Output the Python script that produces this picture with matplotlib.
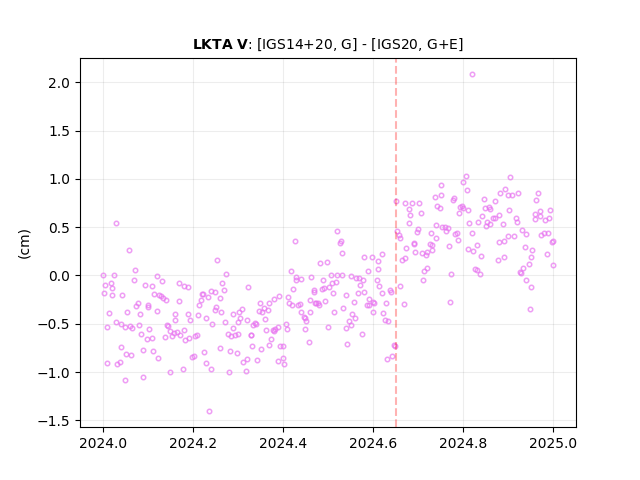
import numpy as np
import matplotlib
matplotlib.use('Agg')
import matplotlib.pyplot as plt

# fraction of the year after 2024.0
year_frac = [
    .000, .024, .120, .273, .067, .131, .004, .016, .020, .093, .107, .167, .178, .189, .264,
    .002, .018, .042, .113, .124, .129, .133, .140, .169, .218, .222, .233, .240, .247, .260,
    .269, .216, .076, .073, .100, .098, .213, .251, .249, .013, .053, .082, .118, .158, .187,
    .211, .262, .287, .302, .029, .040, .049, .060, .064, .078, .007, .142, .144, .160, .193,
    .229, .242, .271, .300, .289, .304, .102, .149, .180, .084, .156, .164, .153, .171, .136,
    .096, .109, .182, .191, .204, .207, .276, .284, .293, .300, .038, .087, .111, .051, .062,
    .122, .196, .202, .224, .258, .282, .296, .009, .031, .036, .227, .238, .176, .147, .280,
    .047, .089, .027, .056, .071, .253, .2356,
    .520, .425, .525, .527, .529, .578, .596, .618, .609, .611, .482, .496, .416, .587, .505,
    .518, .531, .427, .429, .440, .462, .487, .549, .562, .567, .576, .607, .516, .507, .571,
    .613, .502, .491, .485, .322, .422, .469, .467, .509, .538, .565, .580, .620, .636, .638,
    .411, .391, .378, .589, .458, .493, .556, .600, .602, .627, .413, .347, .367, .420, .433,
    .436, .471, .476, .473, .480, .585, .591, .309, .356, .345, .353, .365, .438, .460, .513,
    .533, .598, .622, .553, .358, .320, .445, .449, .451, .560, .625, .633, .545, .551, .405,
    .333, .336, .340, .498, .540, .389, .409, .362, .376, .380, .382, .447, .574, .327, .329,
    .373, .331, .351, .369, .393, .398, .456, .542, .645, .647, .642, .631, .400, .402, .387,
    .342, .318, .311, .316,
    .805, .904, .798, .749, .893, .882, .807, .751, .900, .907, .922, .965, .736, .778, .776,
    .962, .845, .869, .671, .685, .702, .649, .742, .747, .796, .793, .800, .809, .847, .856,
    .858, .902, .678, .705, .682, .789, .958, .969, .971, .993, .842, .880, .865, .871, .916,
    .960, .982, .991, .813, .833, .853, .918, .887, .680, .738, .860, .851, .753, .758, .765,
    .762, .700, .696, .653, .656, .727, .785, .782, .818, .929, .938, .973, .980, .987, .660,
    .740, .787, .898, .913, .889, .878, 1.000, .996, .689, .691, .725, .731, .767, .831, .936,
    .673, .811, .822, .729, .720, .693, .707, .716, .953, .985, .840, .891, .949, .876, .669,
    .664, .945, .998, .933, .718, .713, .825, .829, .836, .773, .925, .927, .711, .940, .951,
    .658, .667, .771, .947, .820,
]

diff_cm = [
    .00, .01, -.01, .02, -.05, -.06, -.10, -.08, -.13, -.10, -.11, -.08, -.11, -.12, -.08,
    -.18, -.20, -.20, -.19, -.20, -.21, -.23, -.25, -.26, -.19, -.19, -.22, -.16, -.17, -.23,
    -.15, -.25, -.28, -.32, -.31, -.33, -.31, -.33, -.36, -.39, -.38, -.40, -.37, -.40, -.40,
    -.41, -.38, -.40, -.38, -.48, -.50, -.53, -.52, -.54, -.51, -.53, -.51, -.52, -.46, -.46,
    -.44, -.50, -.48, -.48, -.54, -.44, -.55, -.57, -.56, -.61, -.60, -.59, -.63, -.62, -.64,
    -.66, -.65, -.67, -.65, -.63, -.62, -.61, -.63, -.62, -.61, -.74, -.77, -.78, -.81, -.82,
    -.85, -.84, -.83, -.79, -.75, -.78, -.80, -.91, -.92, -.90, -.91, -.97, -.97, -1.00, -1.00,
    -1.08, -1.05, .54, .26, .06, .16, -1.40,
    .46, .36, .34, .36, .23, .19, .19, .22, .15, .07, .13, .14, .05, .05, .01,
    .01, .01, -.02, -.05, -.04, -.02, -.05, -.01, -.03, -.03, -.05, -.05, -.07, -.08, -.10,
    -.11, -.12, -.13, -.14, -.12, -.14, -.15, -.17, -.18, -.20, -.18, -.17, -.18, -.15, -.17,
    -.22, -.21, -.24, -.24, -.25, -.26, -.27, -.27, -.29, -.29, -.28, -.29, -.29, -.31, -.31,
    -.30, -.29, -.28, -.29, -.31, -.31, -.31, -.35, -.34, -.37, -.38, -.36, -.38, -.38, -.38,
    -.34, -.38, -.39, -.40, -.45, -.46, -.43, -.44, -.47, -.44, -.46, -.47, -.47, -.51, -.50,
    -.51, -.49, -.50, -.53, -.54, -.53, -.55, -.56, -.56, -.57, -.55, -.55, -.61, -.62, -.62,
    -.66, -.73, -.76, -.72, -.73, -.73, -.69, -.71, -.72, -.73, -.83, -.87, -.85, -.92, -.89,
    -.88, -.87, -.90, -.99,
    1.03, 1.02, .97, .94, .90, .86, .89, .83, .83, .83, .85, .85, .81, .80, .78,
    .78, .79, .77, .75, .75, .75, .77, .72, .70, .72, .71, .70, .68, .70, .71,
    .69, .68, .69, .65, .63, .65, .64, .67, .62, .68, .62, .63, .60, .60, .60,
    .59, .58, .60, .54, .55, .55, .55, .53, .54, .52, .53, .51, .50, .50, .49,
    .46, .48, .45, .46, .42, .44, .44, .43, .44, .47, .43, .42, .44, .44, .39,
    .39, .37, .41, .41, .36, .35, .36, .35, .34, .33, .33, .32, .31, .32, .30,
    .28, .27, .25, .26, .24, .24, .23, .21, .26, .22, .20, .19, .19, .16, .18,
    .16, .12, .11, .08, .08, .05, .07, .06, .02, .02, .04, .03, -.05, -.05, -.12,
    -.11, -.30, -.27, -.35, 2.085,
]

start_year = 2024.0
change_date = 2024.65
title_text = r'$\bf{LKTA\ V}$: [IGS14+20, G] - [IGS20, G+E]'
ylabel_text = '(cm)'

x = start_year + np.array(year_frac)
y = np.array(diff_cm)

fig, ax = plt.subplots(figsize=(6.4, 4.8), dpi=100)

ax.plot(x, y, 'o', ms=3.2, mfc='none', mec='#e874f0', mew=1.1, alpha=0.7)
ax.axvline(change_date, color='red', ls='--', lw=1.5, alpha=0.3)
ax.grid(True, color='black', alpha=0.07, lw=0.8)

ax.set_xlim(2023.948, 2025.05)
ax.set_ylim(-1.572, 2.258)
ax.set_ylabel(ylabel_text)
ax.set_title(title_text, fontsize=10)

plt.savefig('out.png', dpi=100)
